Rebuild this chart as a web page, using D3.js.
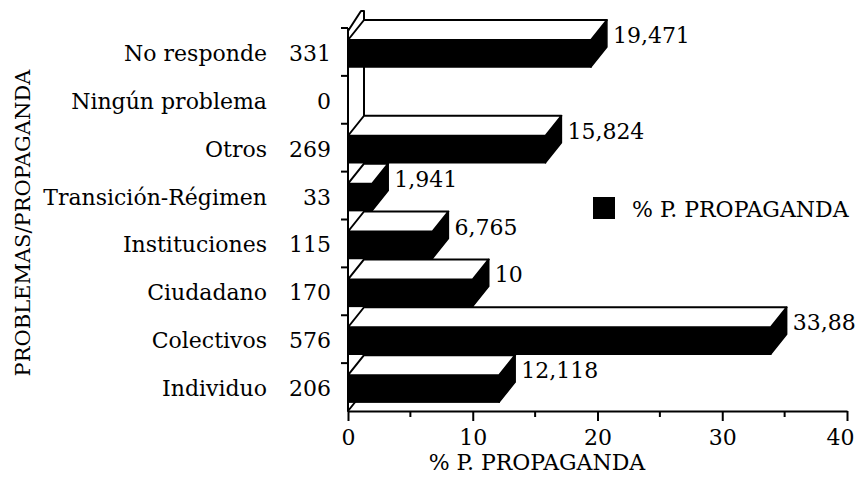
<!DOCTYPE html>
<html>
<head>
<meta charset="utf-8">
<script src="https://cdn.jsdelivr.net/npm/d3@7"></script>
<style>
  body { margin: 0; background: #fff; }
  text { font-family: "DejaVu Serif", serif; fill: #000; }
</style>
</head>
<body>
<script>
// categories, top to bottom as printed
var categories = ["No responde", "Ningún problema", "Otros", "Transición-Régimen",
                  "Instituciones", "Ciudadano", "Colectivos", "Individuo"];
var counts = [331, 0, 269, 33, 115, 170, 576, 206];
var pctValues = [19.471, 0, 15.824, 1.941, 6.765, 10, 33.88, 12.118];
var xTicks = [0, 10, 20, 30, 40];
var xMinorTicks = [5, 15, 25, 35];
var seriesName = "% P. PROPAGANDA";
var yTitle = "PROBLEMAS/PROPAGANDA";

var w = 859;
var h = 477;
var svg = d3.select("body")
      .append("svg")
      .attr("width", w)
      .attr("height", h);

var x = d3.scaleLinear().domain([0, 40]).range([348, 847]);
var y = d3.scaleBand().domain(categories).range([28, 411]);

// 3d depth and bar placement inside a band
var dx = 16, dy = 20;
var barOff = 12, barH = 27;
var x0 = x(0);
var yTop = y.range()[0], yBot = y.range()[1];

var rows = categories.map(function(c, i) {
  return {cat: c, count: counts[i], v: pctValues[i]};
});

function fmt(v) { return String(v).replace(".", ","); }

// left wall (side plane of the 3d box)
svg.append("path")
  .attr("d", "M" + x0 + "," + (yTop + barOff) +
             "L" + x0 + "," + (yTop + 3) +
             "L" + (x0 + dx - 3) + "," + (yTop + 3 - dy) +
             "L" + (x0 + dx) + "," + (yTop + 3 - dy) +
             "L" + (x0 + dx) + "," + (yBot - dy) +
             "L" + x0 + "," + yBot + "Z")
  .attr("fill", "#fff")
  .attr("stroke", "#000")
  .attr("stroke-width", 2)
  .attr("stroke-linejoin", "round");

// bars
var bars = svg.selectAll("g.bar")
  .data(rows.filter(function(d) { return d.v > 0; }))
  .enter()
  .append("g")
  .attr("class", "bar");

bars.append("rect")
  .attr("x", x0)
  .attr("y", function(d) { return y(d.cat) + barOff; })
  .attr("width", function(d) { return x(d.v) - x0; })
  .attr("height", barH)
  .attr("fill", "#000")
  .attr("stroke", "#000")
  .attr("stroke-width", 1.5);

bars.append("path")
  .attr("d", function(d) {
    var f = y(d.cat) + barOff, xe = x(d.v);
    return "M" + xe + "," + f + "L" + (xe + dx) + "," + (f - dy) +
           "L" + (xe + dx) + "," + (f + barH - dy) + "L" + xe + "," + (f + barH) + "Z";
  })
  .attr("fill", "#000")
  .attr("stroke", "#000")
  .attr("stroke-width", 1.5)
  .attr("stroke-linejoin", "round");

bars.append("path")
  .attr("d", function(d) {
    var f = y(d.cat) + barOff, xe = x(d.v);
    return "M" + x0 + "," + f + "L" + (x0 + dx) + "," + (f - dy) +
           "L" + (xe + dx) + "," + (f - dy) + "L" + xe + "," + f + "Z";
  })
  .attr("fill", "#fff")
  .attr("stroke", "#000")
  .attr("stroke-width", 2)
  .attr("stroke-linejoin", "round");

// value labels
bars.append("text")
  .attr("x", function(d) { return x(d.v) + dx + 6; })
  .attr("y", function(d) { return y(d.cat) + barOff + 3; })
  .attr("font-size", 22)
  .text(function(d) { return fmt(d.v); });

// y axis: line and ticks at band edges
svg.append("line")
  .attr("x1", x0).attr("x2", x0)
  .attr("y1", yTop).attr("y2", yBot)
  .attr("stroke", "#000").attr("stroke-width", 2);

svg.selectAll("line.ytick")
  .data(categories)
  .enter()
  .append("line")
  .attr("class", "ytick")
  .attr("x1", x0 - 7).attr("x2", x0)
  .attr("y1", function(d) { return y(d); })
  .attr("y2", function(d) { return y(d); })
  .attr("stroke", "#000").attr("stroke-width", 2);

svg.selectAll("text.cat")
  .data(rows)
  .enter()
  .append("text")
  .attr("class", "cat")
  .attr("x", 267)
  .attr("y", function(d) { return y(d.cat) + y.bandwidth() / 2 + 9; })
  .attr("text-anchor", "end")
  .attr("font-size", 22)
  .text(function(d) { return d.cat; });

svg.selectAll("text.count")
  .data(rows)
  .enter()
  .append("text")
  .attr("class", "count")
  .attr("x", 331)
  .attr("y", function(d) { return y(d.cat) + y.bandwidth() / 2 + 9; })
  .attr("text-anchor", "end")
  .attr("font-size", 22)
  .text(function(d) { return d.count; });

// x axis
var xAxis = svg.append("g")
  .attr("transform", "translate(0," + yBot + ")")
  .call(d3.axisBottom(x).tickValues(xTicks).tickSize(10).tickSizeOuter(0).tickPadding(8));
xAxis.select(".domain").attr("stroke-width", 2);
xAxis.selectAll(".tick line").attr("stroke-width", 2);
xAxis.selectAll(".tick text")
  .attr("font-family", "DejaVu Serif")
  .attr("font-size", 22)
  .attr("dx", function(d) { return d === 40 ? -7 : 0; });

svg.selectAll("line.xminor")
  .data(xMinorTicks)
  .enter()
  .append("line")
  .attr("class", "xminor")
  .attr("x1", function(d) { return x(d); })
  .attr("x2", function(d) { return x(d); })
  .attr("y1", yBot).attr("y2", yBot + 6)
  .attr("stroke", "#000").attr("stroke-width", 2);

svg.append("text")
  .attr("x", 537)
  .attr("y", 470)
  .attr("text-anchor", "middle")
  .attr("font-size", 22)
  .text(seriesName);

svg.append("text")
  .attr("transform", "translate(30,223) rotate(-90)")
  .attr("text-anchor", "middle")
  .attr("font-size", 21)
  .text(yTitle);

// legend
svg.append("rect")
  .attr("x", 593).attr("y", 197)
  .attr("width", 22).attr("height", 22)
  .attr("fill", "#000");

svg.append("text")
  .attr("x", 632)
  .attr("y", 217)
  .attr("font-size", 22)
  .text(seriesName);
</script>
</body>
</html>
